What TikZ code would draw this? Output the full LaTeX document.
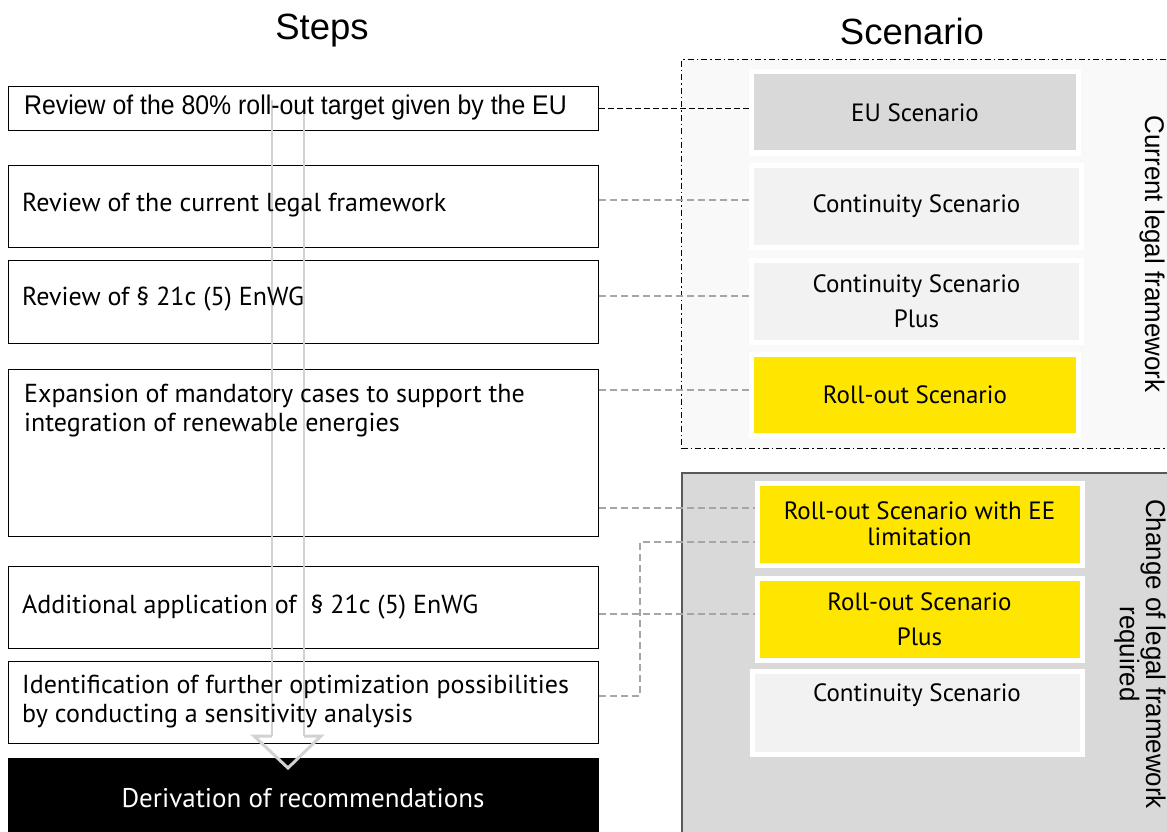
\documentclass[tikz,border=0pt]{standalone}
\usepackage{fontspec}
\setmainfont{PT Sans}
\newfontfamily\arialn[FakeStretch=0.92]{Liberation Sans}
\newfontfamily\arialv[FakeStretch=0.96]{Liberation Sans}
\newfontfamily\arialf{Liberation Sans}
\definecolor{eyyellow}{HTML}{FFE600}
\definecolor{gmid}{HTML}{D9D9D9}
\definecolor{glight}{HTML}{F2F2F2}
\definecolor{gvlight}{HTML}{F9F9F9}
\definecolor{gline}{HTML}{A6A6A6}
\definecolor{garrow}{HTML}{D2D2D2}
\definecolor{gborder}{HTML}{595959}
\tikzset{
  stepbox/.style={draw=black, line width=1.2pt, fill=white, minimum width=590pt, inner sep=0pt, anchor=north west},
  steptext/.style={anchor=west, inner sep=0pt, align=left, font=\fontsize{26}{29}\selectfont},
  scenbox/.style={draw=white, line width=5pt, inner sep=0pt, align=center, font=\fontsize{25}{35}\selectfont},
  conn/.style={draw=gline, line width=1.2pt, dash pattern=on 7pt off 4pt},
  connblack/.style={draw=black, line width=1.4pt, dash pattern=on 6pt off 3pt},
  vlabel/.style={rotate=-90, inner sep=0pt, align=center, font=\arialv\fontsize{27}{23}\selectfont},
  title/.style={font=\arialf\fontsize{36.5}{36.5}\selectfont, inner sep=0pt}
}
\begin{document}
\begin{tikzpicture}[x=1pt, y=-1pt]
\useasboundingbox (0,0) rectangle (1167,832);
\begin{scope}
\clip (0,0) rectangle (1167,832);
% titles
\node[title] (tsteps) at (322,31) {Steps};
\node[title] (tscen) at (912,31) {Scenario};

% right side frames
\node[draw=black, line width=1pt, fill=gvlight, dash pattern=on 6pt off 3pt on 1.5pt off 3pt,
      minimum width=500pt, minimum height=389pt, anchor=north west, inner sep=0pt] (cur) at (681,59) {};
\node[draw=gborder, line width=1.5pt, fill=gmid, minimum width=500pt, minimum height=380pt,
      anchor=north west, inner sep=0pt] (chg) at (681,472) {};

% step boxes
\node[stepbox, minimum height=44pt] (s1) at (8,86) {};
\node[stepbox, minimum height=82pt] (s2) at (8,165) {};
\node[stepbox, minimum height=83pt] (s3) at (8,260) {};
\node[stepbox, minimum height=167pt] (s4) at (8,369) {};
\node[stepbox, minimum height=82pt] (s5) at (8,566) {};
\node[stepbox, minimum height=82pt] (s6) at (8,661) {};
\node[stepbox, fill=black, minimum height=90pt] (s7) at (8,758) {};

% hollow arrow
\draw[garrow, line width=2.5pt] (272,100) -- (272,736);
\draw[garrow, line width=2.5pt] (304,100) -- (304,736);
\draw[garrow, line width=3pt, line join=miter] (272,736) -- (254,736) -- (288,768) -- (321,736) -- (304,736);

% step texts
\node[steptext, font=\arialn\fontsize{27}{27}\selectfont] (t1) at (24,108) {Review of the 80\% roll-out target given by the EU};
\node[steptext] (t2) at (22,205) {Review of the current legal framework};
\node[steptext] (t3) at (22,299) {Review of § 21c (5) EnWG};
\node[steptext, anchor=north west] (t4) at (24,384) {Expansion of mandatory cases to support the\\integration of renewable energies};
\node[steptext] (t5) at (22,607) {Additional application of\ \ § 21c (5) EnWG};
\node[steptext] (t6) at (22,702) {Identification of further optimization possibilities\\by conducting a sensitivity analysis};
\node[steptext, anchor=center, text=white, font=\fontsize{27}{29}\selectfont] (t7) at (303,798) {Derivation of recommendations};

% scenario boxes
\node[scenbox, fill=gmid, minimum width=327pt, minimum height=81pt] (eu) at (915,112.5) {EU Scenario};
\node[scenbox, fill=glight, minimum width=330pt, minimum height=82pt] (c1) at (916.5,206) {Continuity Scenario};
\node[scenbox, fill=glight, minimum width=330pt, minimum height=82pt] (c2) at (916.5,301) {Continuity Scenario\\Plus};
\node[scenbox, fill=eyyellow, minimum width=327pt, minimum height=81pt] (ro) at (915,394.5) {Roll-out Scenario};
\node[scenbox, fill=eyyellow, minimum width=325pt, minimum height=82pt, font=\fontsize{25}{26}\selectfont] (ree) at (919.5,524) {Roll-out Scenario with EE\\limitation};
\node[scenbox, fill=eyyellow, minimum width=325pt, minimum height=82pt] (rp) at (919.5,619) {Roll-out Scenario\\Plus};
\node[scenbox, fill=glight, minimum width=330pt, minimum height=83pt] (c3) at (917,712.5) {};
\node[inner sep=0pt, font=\fontsize{25}{26}\selectfont] (c3t) at (c3.north |- 0,695) {Continuity Scenario};

% vertical labels
\node[vlabel] (vcur) at (1152,254) {Current legal framework};
\node[vlabel] (vchg) at (1140,654) {Change of legal framework\\required};

% connectors
\draw[connblack] (s1.east) -- (s1.east -| eu.west);
\draw[conn] (s2.east |- 0,200) -- (c1.west |- 0,200);
\draw[conn] (s3.east |- 0,296) -- (c2.west |- 0,296);
\draw[conn] (s4.east |- 0,390) -- (ro.west |- 0,390);
\draw[conn] (s4.east |- 0,508) -- (ree.west |- 0,508);
\draw[conn] (s5.east |- 0,614) -- (rp.west |- 0,614);
\coordinate (elb) at (640,542);
\draw[conn] (s6.east |- 0,696) -- (elb |- 0,696) -- (elb) -- (ree.west |- elb);
\end{scope}
\end{tikzpicture}
\end{document}
